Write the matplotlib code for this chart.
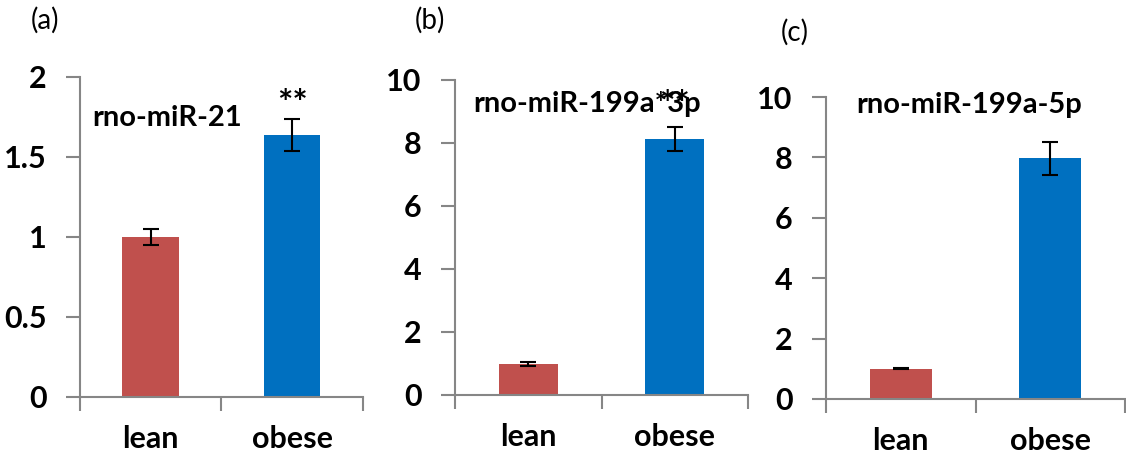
import matplotlib.pyplot as plt
import numpy as np

# data
groups = ['lean', 'obese']
mir21 = [1.0, 1.64]
mir21_err = [0.053, 0.10]
mir199a3p = [0.98, 8.13]
mir199a3p_err = [0.06, 0.38]
mir199a5p = [1.0, 7.97]
mir199a5p_err = [0.02, 0.55]

bar_colors = ['#C0504D', '#0070C0']
axis_gray = '#868686'

plt.rcParams['font.family'] = ['Lato', 'DejaVu Sans']

fig = plt.figure(figsize=(11.26, 4.55), dpi=100)

# rect, values, errors, ymax, ticks, tick labels, name, name pos, panel label, label pos, bar width, star y
panels = [
    ([0.0710, 0.1275, 0.2513, 0.7033], mir21, mir21_err, 2, [0, 0.5, 1, 1.5, 2],
     ['0', '0.5', '1', '1.5', '2'], 'rno-miR-21', (0.042, 0.847), '(a)', (0.040, 0.956), 0.40, 1.83),
    ([0.4041, 0.1319, 0.2602, 0.6923], mir199a3p, mir199a3p_err, 10, [0, 2, 4, 6, 8, 10],
     ['0', '2', '4', '6', '8', '10'], 'rno-miR-199a*3p', (0.061, 0.898), '(b)', (0.382, 0.956), 0.40, 9.2),
    ([0.7336, 0.1231, 0.2655, 0.6637], mir199a5p, mir199a5p_err, 10, [0, 2, 4, 6, 8, 10],
     ['0', '2', '4', '6', '8', '10'], 'rno-miR-199a-5p', (0.10, 0.947), '(c)', (0.706, 0.930), 0.415, None),
]

for rect, vals, errs, ymax, yt, ytl, name, npos, plabel, ppos, bw, star_y in panels:
    ax = fig.add_axes(rect)
    x = np.arange(len(groups))
    ax.bar(x, vals, width=bw, color=bar_colors, zorder=2)
    ax.errorbar(x, vals, yerr=errs, fmt='none', ecolor='black', elinewidth=1.5,
                capsize=6, capthick=1.5, zorder=3)
    ax.set_xlim(-0.5, 1.5)
    ax.set_ylim(0, ymax)
    ax.set_yticks(yt)
    ax.set_yticklabels(ytl, fontsize=22, fontweight='bold')
    ax.set_xticks(x)
    ax.set_xticklabels(groups, fontsize=22, fontweight='bold')
    ax.set_xticks([-0.5, 0.5, 1.5], minor=True)
    ax.tick_params(axis='x', which='major', length=0, pad=20)
    ax.tick_params(axis='x', which='minor', length=10, width=1.5, color=axis_gray, direction='out')
    ax.tick_params(axis='y', length=10, width=1.5, color=axis_gray, pad=14)
    for s in ['top', 'right']:
        ax.spines[s].set_visible(False)
    for s in ['left', 'bottom']:
        ax.spines[s].set_color(axis_gray)
        ax.spines[s].set_linewidth(1.5)
    ax.text(npos[0], npos[1], name, transform=ax.transAxes, fontsize=21,
            fontweight='bold', ha='left', va='baseline')
    fig.text(ppos[0], ppos[1], plabel, fontsize=20, ha='center', va='center')
    # significance marks
    if star_y is not None:
        ax.text(1, star_y, '**', ha='center', va='center',
                fontsize=26, fontweight='bold')

fig.savefig('out.png', dpi=100)
